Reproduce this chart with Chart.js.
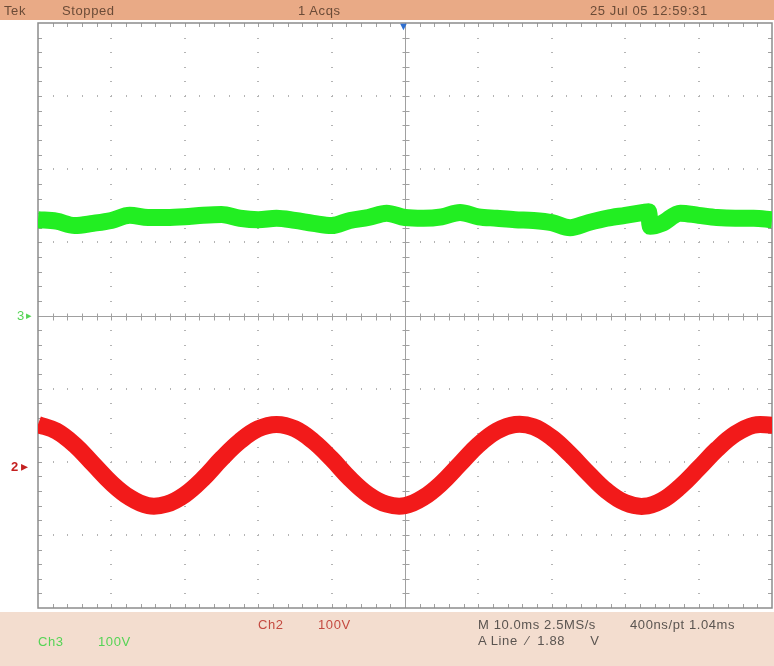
<!DOCTYPE html>
<html>
<head>
<meta charset="utf-8">
<script src="https://cdn.jsdelivr.net/npm/chart.js@4/dist/chart.umd.min.js"></script>
<style>
  html, body { margin: 0; padding: 0; background: #ffffff; }
  #wrap { position: relative; width: 774px; height: 666px; overflow: hidden; background: #ffffff; }
  #hdr { position: absolute; left: 0; top: 0; width: 774px; height: 20px; background: #e9aa86; }
  #ftr { position: absolute; left: 0; top: 612px; width: 774px; height: 54px; background: #f3ddcf; }
  canvas { position: absolute; left: 0; top: 0; }
  .t { position: absolute; font-family: "Liberation Sans", Arial, sans-serif; font-size: 13px; line-height: 14px; white-space: pre; letter-spacing: 0.6px; }
  .h { color: #6b4b37; top: 4px; }
  .f { color: #5a5450; }
  .g { color: #55d455; }
  .r { color: #c44a40; }
</style>
</head>
<body>
<div id="wrap">
  <div id="hdr"></div>
  <div id="ftr"></div>
  <canvas id="c" width="774" height="666"></canvas>
  <div class="t h" style="left:4px;">Tek</div>
  <div class="t h" style="left:62px;">Stopped</div>
  <div class="t h" style="left:298px;">1 Acqs</div>
  <div class="t h" style="left:590px;">25 Jul 05 12:59:31</div>
  <div class="t" style="left:398px; top:19px; color:#2f6fd0; font-size:11px; letter-spacing:0;">▼</div>
  <div class="t g" style="left:17px; top:309px;">3</div>
  <div class="t g" style="left:26px; top:308px; font-size:11px; letter-spacing:0;">▸</div>
  <div class="t" style="left:11px; top:460px; color:#c42020; font-weight:bold; letter-spacing:0;">2</div>
  <div class="t" style="left:21px; top:459px; color:#c42020; font-size:14px; letter-spacing:0;">▸</div>
  <div class="t r" style="left:258px; top:618px;">Ch2</div>
  <div class="t r" style="left:318px; top:618px;">100V</div>
  <div class="t g" style="left:38px; top:635px;">Ch3</div>
  <div class="t g" style="left:98px; top:635px;">100V</div>
  <div class="t f" style="left:478px; top:618px;">M 10.0ms 2.5MS/s</div>
  <div class="t f" style="left:630px; top:618px;">400ns/pt 1.04ms</div>
  <div class="t f" style="left:478px; top:634px;">A Line  ⁄  1.88      V</div>
</div>
<script>
// ---- Data ----
// Time axis in ms, trigger at 0, 10 ms/div
const ch2Time = [-50, -47.5, -45, -42.5, -40, -37.5, -35, -32.5, -30, -27.5, -25, -22.5, -20, -17.5, -15, -12.5, -10, -7.5, -5, -2.5, 0, 2.5, 5, 7.5, 10, 12.5, 15, 17.5, 20, 22.5, 25, 27.5, 30, 32.5, 35, 37.5, 40, 42.5, 45, 47.5, 50];
// Ch2 (red), volts, 100 V/div
const ch2Volts = [57, 48, 29, 3, -23, -43, -54, -52, -39, -17, 10, 34, 51, 57, 51, 34, 10, -17, -39, -52, -54, -43, -23, 3, 29, 48, 57, 54, 39, 16, -10, -34, -50, -55, -47, -28, -3, 23, 44, 56, 56];
// Ch3 (green), volts, 100 V/div
const ch3Time = [-50, -47.5, -45, -42.5, -40, -37.5, -35, -32.5, -30, -27.5, -25, -22.5, -20, -17.5, -15, -12.5, -10, -7.5, -5, -2.5, 0, 2.5, 5, 7.5, 10, 12.5, 15, 17.5, 20, 22.5, 25, 27.5, 30, 32.5, 33.2, 33.4, 35, 37.5, 40, 42.5, 45, 47.5, 50];
const ch3Volts = [131, 129, 123, 126, 130, 137, 134, 134, 135, 137, 138, 133, 131, 133, 130, 126, 123, 130, 134, 140, 134, 133, 135, 141, 135, 133, 131, 130, 127, 120, 127, 133, 137, 141, 142, 122, 126, 140, 137, 134, 133, 133, 131];

const xDivs = 10, yDivs = 8, minorPerDiv = 5;

const graticule = {
  id: 'graticule',
  beforeDatasetsDraw(chart) {
    const ctx = chart.ctx, a = chart.chartArea;
    const xs = chart.scales.x, ys = chart.scales.y3;
    const xStep = (xs.max - xs.min) / xDivs, yStep = (ys.max - ys.min) / yDivs;
    ctx.save();
    // dotted major grid
    ctx.fillStyle = '#b4b4b4';
    for (let i = 1; i < xDivs; i++) {
      if (i === xDivs / 2) continue;
      const px = Math.round(xs.getPixelForValue(xs.min + i * xStep));
      for (let k = 1; k < yDivs * minorPerDiv; k++) {
        const py = Math.round(ys.getPixelForValue(ys.min + k * yStep / minorPerDiv));
        ctx.fillRect(px - 1, py, 2, 1);
      }
    }
    for (let j = 1; j < yDivs; j++) {
      if (j === yDivs / 2) continue;
      const py = Math.round(ys.getPixelForValue(ys.min + j * yStep));
      for (let k = 1; k < xDivs * minorPerDiv; k++) {
        const px = Math.round(xs.getPixelForValue(xs.min + k * xStep / minorPerDiv));
        ctx.fillRect(px, py - 1, 1, 2);
      }
    }
    // centre cross
    ctx.strokeStyle = '#a0a0a0';
    ctx.lineWidth = 1;
    const cx = Math.round(xs.getPixelForValue(0)) + 0.5;
    const cy = Math.round(ys.getPixelForValue(0)) + 0.5;
    ctx.beginPath();
    ctx.moveTo(cx, a.top); ctx.lineTo(cx, a.bottom);
    ctx.moveTo(a.left, cy); ctx.lineTo(a.right, cy);
    for (let k = 1; k < xDivs * minorPerDiv; k++) {
      const px = Math.round(xs.getPixelForValue(xs.min + k * xStep / minorPerDiv)) + 0.5;
      ctx.moveTo(px, cy - 3); ctx.lineTo(px, cy + 4);
      ctx.moveTo(px, a.top); ctx.lineTo(px, a.top + 4);
      ctx.moveTo(px, a.bottom); ctx.lineTo(px, a.bottom - 4);
    }
    for (let k = 1; k < yDivs * minorPerDiv; k++) {
      const py = Math.round(ys.getPixelForValue(ys.min + k * yStep / minorPerDiv)) + 0.5;
      ctx.moveTo(cx - 3, py); ctx.lineTo(cx + 4, py);
      ctx.moveTo(a.left, py); ctx.lineTo(a.left + 4, py);
      ctx.moveTo(a.right, py); ctx.lineTo(a.right - 4, py);
    }
    ctx.stroke();
    // border
    ctx.strokeStyle = '#8c8c8c';
    ctx.lineWidth = 1.5;
    ctx.strokeRect(a.left, a.top, a.right - a.left, a.bottom - a.top);
    ctx.restore();
  }
};

new Chart(document.getElementById('c'), {
  type: 'line',
  data: {
    datasets: [
      {
        label: 'Ch3',
        data: ch3Time.map((t, i) => ({ x: t, y: ch3Volts[i] })),
        yAxisID: 'y3',
        borderColor: '#22ee22',
        borderWidth: 17,
        borderJoinStyle: 'round',
        borderCapStyle: 'butt',
        cubicInterpolationMode: 'monotone',
        pointRadius: 0,
        clip: 0
      },
      {
        label: 'Ch2',
        data: ch2Time.map((t, i) => ({ x: t, y: ch2Volts[i] })),
        yAxisID: 'y2',
        borderColor: '#f21a1a',
        borderWidth: 17,
        borderJoinStyle: 'round',
        borderCapStyle: 'butt',
        tension: 0.4,
        pointRadius: 0,
        clip: 0
      }
    ]
  },
  options: {
    responsive: false,
    animation: false,
    devicePixelRatio: 1,
    layout: { padding: { left: 38, top: 23, right: 2, bottom: 58 } },
    plugins: { legend: { display: false }, tooltip: { enabled: false } },
    scales: {
      x: { type: 'linear', min: -50, max: 50, display: false },
      y3: { type: 'linear', min: -400, max: 400, display: false },
      y2: { type: 'linear', min: -194, max: 606, display: false }
    }
  },
  plugins: [graticule]
});
</script>
</body>
</html>
